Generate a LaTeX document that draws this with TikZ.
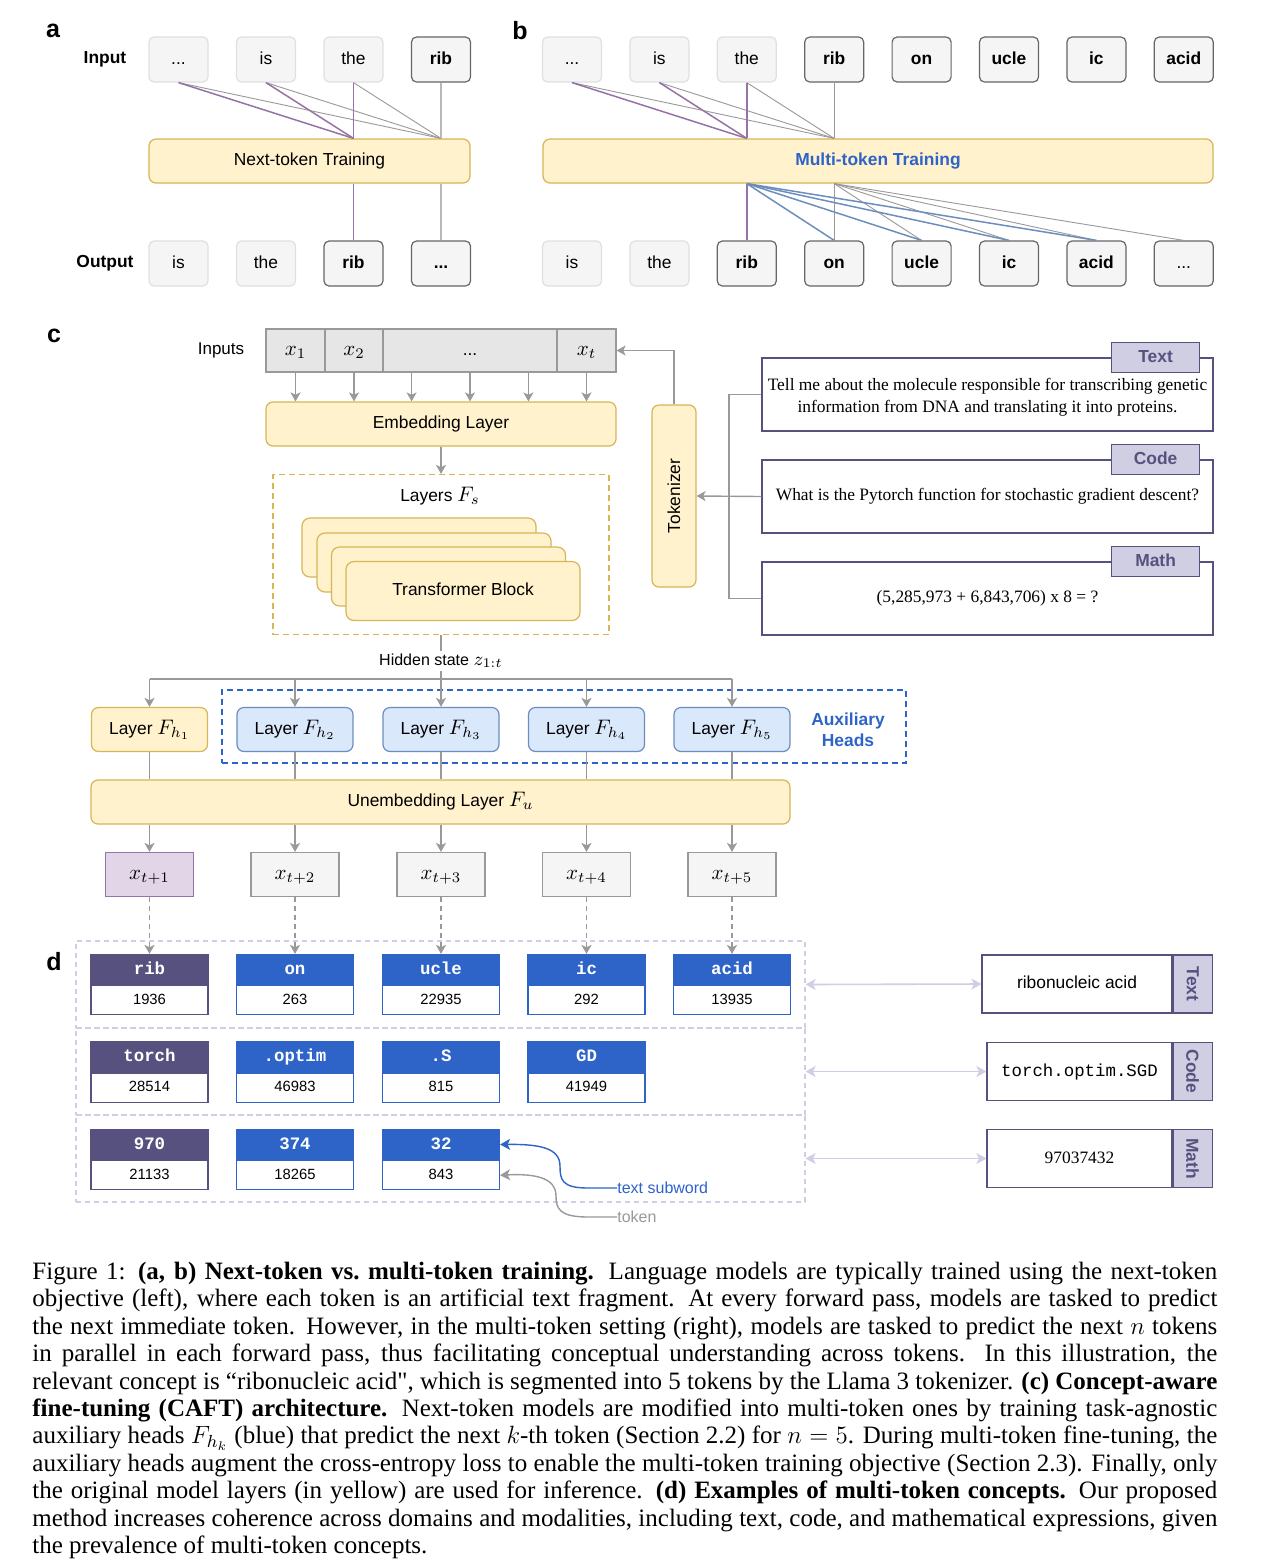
\RequirePackage{fix-cm}
\documentclass[tikz,border=0pt]{standalone}
\usepackage{graphicx}
\usepackage{fontspec}
\setmainfont{Liberation Serif}
\setsansfont{Liberation Sans}
\setmonofont{Liberation Mono}
\newfontfamily\plainrm[Ligatures=Common]{Liberation Serif}
\usetikzlibrary{arrows.meta,calc}
\definecolor{yfill}{HTML}{FFF2CC}
\definecolor{yline}{HTML}{D6B656}
\definecolor{tokfill}{HTML}{F5F5F5}
\definecolor{tokline}{HTML}{E0E0E0}
\definecolor{tokdark}{HTML}{666666}
\definecolor{lgray}{HTML}{999999}
\definecolor{vlgray}{HTML}{B8B8B8}
\definecolor{purpline}{HTML}{9673A6}
\definecolor{blueline}{HTML}{6C8EBF}
\definecolor{arrgray}{HTML}{999999}
\definecolor{cellfill}{HTML}{E6E6E6}
\definecolor{hfill}{HTML}{DAE8FC}
\definecolor{pfill}{HTML}{E1D5E7}
\definecolor{dpurp}{HTML}{56517E}
\definecolor{tabfill}{HTML}{D0CEE2}
\definecolor{dblue}{HTML}{2E64C8}
\definecolor{auxblue}{HTML}{2E64C8}
\definecolor{lav}{HTML}{D0CEE2}
\newcommand\fsz{\fontsize{8.7}{10.4}\selectfont}
\newcommand\mth[1]{{\fontsize{10.5}{12}\selectfont$#1$}}
\begin{document}
\begin{tikzpicture}[x=0.5pt,y=-0.5pt,
  every node/.style={font=\sffamily\fsz, inner sep=0pt},
  oneline/.style={text height=6.4pt, text depth=1.8pt},
  panel/.style={font=\sffamily\bfseries\fontsize{12.5}{14}\selectfont},
  rowlab/.style={font=\sffamily\bfseries\fsz},
  tokl/.style={oneline, draw=tokline, fill=tokfill, rounded corners=2.5pt, minimum width=29.5pt, minimum height=22.5pt, line width=0.6pt},
  tokd/.style={tokl, draw=tokdark, font=\sffamily\bfseries\fsz},
  tokdr/.style={tokl, draw=tokdark},
  ybox/.style={oneline, draw=yline, fill=yfill, rounded corners=3.5pt, line width=0.6pt},
  gline/.style={draw=lgray, line width=0.45pt},
  pline/.style={draw=purpline, line width=0.75pt},
  bline/.style={draw=blueline, line width=0.75pt},
  vline/.style={draw=vlgray, line width=0.8pt},
  arr/.style={draw=arrgray, line width=0.7pt, -{Stealth[length=4.5pt,width=5pt,inset=1.2pt]}},
  plainc/.style={draw=arrgray, line width=0.7pt},
  cell/.style={oneline, draw=lgray, fill=cellfill, minimum height=21.5pt, line width=0.6pt},
  head/.style={oneline, draw=blueline, fill=hfill, rounded corners=3.5pt, minimum width=58pt, minimum height=22pt, line width=0.6pt},
  outx/.style={oneline, draw=lgray, fill=tokfill, minimum width=44pt, minimum height=22pt, line width=0.6pt},
  prompt/.style={draw=dpurp, fill=white, minimum width=225.5pt, minimum height=36.5pt, line width=0.6pt, align=center, font=\rmfamily\fontsize{8.7}{10.8}\selectfont},
  ptab/.style={oneline, draw=dpurp, fill=tabfill, minimum width=44pt, minimum height=15pt, line width=0.6pt, text=dpurp, font=\sffamily\bfseries\fsz},
  hdp/.style={oneline, fill=dpurp, draw=dpurp, minimum width=58.5pt, minimum height=15pt, text=white, font=\ttfamily\bfseries\fsz, line width=0.6pt},
  hdb/.style={hdp, fill=dblue, draw=dblue},
  bdp/.style={text height=5.4pt, text depth=1.5pt, draw=dpurp, fill=white, minimum width=58.5pt, minimum height=14.5pt, font=\sffamily\fontsize{7.4}{9}\selectfont, line width=0.6pt},
  bdb/.style={bdp, draw=dblue},
  region/.style={draw=lav, dash pattern=on 2.5pt off 2pt, line width=0.6pt, minimum width=364.5pt, minimum height=43.5pt},
  rbox/.style={oneline, draw=dpurp, fill=white, minimum height=29pt, line width=0.6pt},
  rtab/.style={draw=dpurp, fill=tabfill, minimum width=19.5pt, minimum height=29pt, line width=0.6pt, text=dpurp, anchor=west},
  larr/.style={draw=lav, line width=0.8pt, {Stealth[length=5pt,width=5.5pt,inset=1.3pt]}-{Stealth[length=5pt,width=5.5pt,inset=1.3pt]}},
  darr/.style={arr, dash pattern=on 2.5pt off 2pt}
]
\useasboundingbox (0,0) rectangle (1262,1560);
\fill[white] (0,0) rectangle (1262,1560);

% ---------------- panel a ----------------
\node[panel] (la) at (53,31) {a};
\node[rowlab] (inA) at (105,59.5) {Input};
\node[tokl] (ia1) at (178.5,59.5) {...};
\node[tokl] (ia2) at (266,59.5) {is};
\node[tokl] (ia3) at (353.5,59.5) {the};
\node[tokd] (ia4) at (441,59.5) {rib};
\node[ybox, minimum width=160.5pt, minimum height=22pt] (ta) at (309.5,161) {Next-token Training};
\node[rowlab] (outA) at (105,263.5) {Output};
\node[tokl] (oa1) at (178.5,263.5) {is};
\node[tokl] (oa2) at (266,263.5) {the};
\node[tokd] (oa3) at (353.5,263.5) {rib};
\node[tokd] (oa4) at (441,263.5) {...};
\draw[gline] (ia1.south) -- (ia4 |- ta.north);
\draw[gline] (ia2.south) -- (ia4 |- ta.north);
\draw[gline] (ia3.south) -- (ia4 |- ta.north);
\draw[pline] (ia1.south) -- (ia3 |- ta.north);
\draw[pline] (ia2.south) -- (ia3 |- ta.north);
\draw[pline] (ia3.south) -- (ia3 |- ta.north);
\draw[vline] (ia4.south) -- (ia4 |- ta.north);
\draw[pline] (ia3 |- ta.south) -- (oa3.north);
\draw[vline] (ia4 |- ta.south) -- (oa4.north);

% ---------------- panel b ----------------
\node[panel] (lb) at (520,31) {b};
\node[tokl] (ib1) at (572,59.5) {...};
\node[tokl] (ib2) at (659.4,59.5) {is};
\node[tokl] (ib3) at (746.8,59.5) {the};
\node[tokd] (ib4) at (834.2,59.5) {rib};
\node[tokd] (ib5) at (921.6,59.5) {on};
\node[tokd] (ib6) at (1009,59.5) {ucle};
\node[tokd] (ib7) at (1096.4,59.5) {ic};
\node[tokd] (ib8) at (1183.8,59.5) {acid};
\node[ybox, minimum width=335pt, minimum height=22pt, text=auxblue, font=\sffamily\bfseries\fsz] (tb) at (878,161) {Multi-token Training};
\node[tokl] (ob1) at (572,263.5) {is};
\node[tokl] (ob2) at (659.4,263.5) {the};
\node[tokd] (ob3) at (746.8,263.5) {rib};
\node[tokd] (ob4) at (834.2,263.5) {on};
\node[tokd] (ob5) at (921.6,263.5) {ucle};
\node[tokd] (ob6) at (1009,263.5) {ic};
\node[tokd] (ob7) at (1096.4,263.5) {acid};
\node[tokdr] (ob8) at (1183.8,263.5) {...};
\draw[gline] (ib1.south) -- (ib4 |- tb.north);
\draw[gline] (ib2.south) -- (ib4 |- tb.north);
\draw[gline] (ib3.south) -- (ib4 |- tb.north);
\draw[pline] (ib1.south) -- (ib3 |- tb.north);
\draw[pline] (ib2.south) -- (ib3 |- tb.north);
\draw[pline] (ib3.south) -- (ib3 |- tb.north);
\draw[gline] (ib4.south) -- (ib4 |- tb.north);
\draw[gline] (ib4 |- tb.south) -- (ob4.north);
\draw[gline] (ib4 |- tb.south) -- (ob5.north);
\draw[gline] (ib4 |- tb.south) -- (ob6.north);
\draw[gline] (ib4 |- tb.south) -- (ob7.north);
\draw[gline] (ib4 |- tb.south) -- (ob8.north);
\draw[pline] (ib3 |- tb.south) -- (ob3.north);
\draw[bline] (ib3 |- tb.south) -- (ob4.north);
\draw[bline] (ib3 |- tb.south) -- (ob5.north);
\draw[bline] (ib3 |- tb.south) -- (ob6.north);
\draw[bline] (ib3 |- tb.south) -- (ob7.north);

% ---------------- panel c ----------------
\node[panel] (lc) at (54,336) {c};
\node[font=\sffamily\fontsize{8.5}{10}\selectfont] (inputs) at (221,350) {Inputs};
\node[cell, minimum width=29.5pt] (x1) at (295.5,350.5) {\mth{x_1}};
\node[cell, minimum width=29pt] (x2) at (354,350.5) {\mth{x_2}};
\node[cell, minimum width=87pt] (xd) at (470,350.5) {...};
\node[cell, minimum width=29.5pt] (xt) at (586.5,350.5) {\mth{x_t}};
\node[ybox, minimum width=175pt, minimum height=22pt] (emb) at (441,424) {Embedding Layer};
\coordinate (xda) at ($(xd.south west)!0.1667!(xd.south east)$);
\coordinate (xdb) at ($(xd.south west)!0.8333!(xd.south east)$);
\draw[arr] (x1.south) -- (x1.south |- emb.north);
\draw[arr] (x2.south) -- (x2.south |- emb.north);
\draw[arr] (xda) -- (xda |- emb.north);
\draw[arr] (xd.south) -- (xd.south |- emb.north);
\draw[arr] (xdb) -- (xdb |- emb.north);
\draw[arr] (xt.south) -- (xt.south |- emb.north);
\node[draw=yline, dash pattern=on 3pt off 2pt, line width=0.6pt, minimum width=168pt, minimum height=80pt] (fs) at (441,554.5) {};
\draw[arr] (emb.south) -- (fs.north);
\node (fsl) at (440,496) {Layers \mth{F_s}};
\node[ybox, rounded corners=4pt, minimum width=117pt, minimum height=29.5pt] (tb1) at (419,547.5) {};
\node[ybox, rounded corners=4pt, minimum width=117pt, minimum height=29.5pt] (tb2) at (434,562.5) {};
\node[ybox, rounded corners=4pt, minimum width=117pt, minimum height=29.5pt] (tb3) at (448.5,576.5) {};
\node[ybox, rounded corners=4pt, minimum width=117pt, minimum height=29.5pt] (tb4) at (463,591) {Transformer Block};
\node[draw=yline, fill=yfill, rounded corners=3.5pt, line width=0.6pt, minimum width=22pt, minimum height=91pt] (tok) at (674,496) {\rotatebox{90}{Tokenizer}};
\draw[arr] (tok.north) |- (xt.east);

\node[prompt] (p1) at (987.5,394.5) {\rule{0pt}{9pt}Tell me about the molecule responsible for transcribing genetic\\information from DNA and translating it into proteins.};
\node[prompt] (p2) at (987.5,496.5) {\rule[-2.5pt]{0pt}{8pt}What is the Pytorch function for stochastic gradient descent?};
\node[prompt] (p3) at (987.5,598.5) {\rule[-2.5pt]{0pt}{8pt}(5,285,973 + 6,843,706) x 8 = ?};
\node[ptab] (pt1) at ($(p1.north east)+(-58,0)$) {Text};
\node[ptab] (pt2) at ($(p2.north east)+(-58,0)$) {Code};
\node[ptab] (pt3) at ($(p3.north east)+(-58,0)$) {Math};
\coordinate (bus) at (729,496.5);
\draw[plainc] (p1.west) -| (bus) |- (p3.west);
\draw[arr] (p2.west) -- (tok.east);

\coordinate (hb) at (441,679);
\draw[plainc] (fs.south) -- (hb);
\node[fill=white, inner sep=1.5pt, font=\sffamily\fontsize{8}{9.5}\selectfont] (hsl) at (441,661) {Hidden state {\fontsize{9.5}{11}\selectfont$z_{1:t}$}};

\node[draw=auxblue, dash pattern=on 3pt off 2pt, line width=0.7pt, minimum width=342pt, minimum height=36.5pt] (aux) at (564,726.5) {};
\node[ybox, minimum width=58pt, minimum height=22pt] (h1) at (149.5,729.5) {Layer \mth{F_{h_1}}};
\node[head] (h2) at (295,729.5) {Layer \mth{F_{h_2}}};
\node[head] (h3) at (441,729.5) {Layer \mth{F_{h_3}}};
\node[head] (h4) at (586.5,729.5) {Layer \mth{F_{h_4}}};
\node[head] (h5) at (732,729.5) {Layer \mth{F_{h_5}}};
\node[align=center, text=auxblue, font=\sffamily\bfseries\fontsize{8.7}{10.6}\selectfont] (auxl) at (848,729.5) {Auxiliary\\Heads};
\draw[plainc] (h1.north |- hb) -- (h5.north |- hb);
\draw[arr] (h1.north |- hb) -- (h1.north);
\draw[arr] (h2.north |- hb) -- (h2.north);
\draw[arr] (h3.north |- hb) -- (h3.north);
\draw[arr] (h4.north |- hb) -- (h4.north);
\draw[arr] (h5.north |- hb) -- (h5.north);

\node[ybox, minimum width=349.5pt, minimum height=22pt] (unemb) at (440.5,802) {Unembedding Layer \mth{F_u}};
\draw[plainc] (h1.south) -- (h1.south |- unemb.north);
\draw[plainc] (h2.south) -- (h2.south |- unemb.north);
\draw[plainc] (h3.south) -- (h3.south |- unemb.north);
\draw[plainc] (h4.south) -- (h4.south |- unemb.north);
\draw[plainc] (h5.south) -- (h5.south |- unemb.north);

\node[outx, draw=purpline, fill=pfill] (o1) at (149.5,874.5) {\mth{x_{t+1}}};
\node[outx] (o2) at (295,874.5) {\mth{x_{t+2}}};
\node[outx] (o3) at (441,874.5) {\mth{x_{t+3}}};
\node[outx] (o4) at (586.5,874.5) {\mth{x_{t+4}}};
\node[outx] (o5) at (732,874.5) {\mth{x_{t+5}}};
\draw[arr] (h1.south |- unemb.south) -- (o1.north);
\draw[arr] (h2.south |- unemb.south) -- (o2.north);
\draw[arr] (h3.south |- unemb.south) -- (o3.north);
\draw[arr] (h4.south |- unemb.south) -- (o4.north);
\draw[arr] (h5.south |- unemb.south) -- (o5.north);

% ---------------- panel d ----------------
\node[panel] (ld) at (54,962) {d};
\node[region] (reg1) at (440.5,984.5) {};
\node[region] (reg2) at (440.5,1071.5) {};
\node[region] (reg3) at (440.5,1158.5) {};

\node[hdp] (d11) at (149.5,969.5) {rib};
\node[bdp, anchor=north] (e11) at (d11.south) {1936};
\node[hdb] (d12) at (295,969.5) {on};
\node[bdb, anchor=north] (e12) at (d12.south) {263};
\node[hdb] (d13) at (441,969.5) {ucle};
\node[bdb, anchor=north] (e13) at (d13.south) {22935};
\node[hdb] (d14) at (586.5,969.5) {ic};
\node[bdb, anchor=north] (e14) at (d14.south) {292};
\node[hdb] (d15) at (732,969.5) {acid};
\node[bdb, anchor=north] (e15) at (d15.south) {13935};

\node[hdp] (d21) at (149.5,1057) {torch};
\node[bdp, anchor=north] (e21) at (d21.south) {28514};
\node[hdb] (d22) at (295,1057) {.optim};
\node[bdb, anchor=north] (e22) at (d22.south) {46983};
\node[hdb] (d23) at (441,1057) {.S};
\node[bdb, anchor=north] (e23) at (d23.south) {815};
\node[hdb] (d24) at (586.5,1057) {GD};
\node[bdb, anchor=north] (e24) at (d24.south) {41949};

\node[hdp] (d31) at (149.5,1144.5) {970};
\node[bdp, anchor=north] (e31) at (d31.south) {21133};
\node[hdb] (d32) at (295,1144.5) {374};
\node[bdb, anchor=north] (e32) at (d32.south) {18265};
\node[hdb] (d33) at (441,1144.5) {32};
\node[bdb, anchor=north] (e33) at (d33.south) {843};

\draw[darr] (o1.south) -- (d11.north);
\draw[darr] (o2.south) -- (d12.north);
\draw[darr] (o3.south) -- (d13.north);
\draw[darr] (o4.south) -- (d14.north);
\draw[darr] (o5.south) -- (d15.north);

\node[anchor=west, text=dblue, font=\sffamily\fontsize{8}{9.5}\selectfont] (tsw) at (617,1188) {text subword};
\node[anchor=west, text=lgray, font=\sffamily\fontsize{8}{9.5}\selectfont] (tkn) at (617,1217) {token};
\draw[draw=dblue, line width=0.7pt, -{Stealth[length=5pt,width=5.5pt,inset=1.3pt]}] (tsw.west) -- (588,1188) .. controls (562,1188) and (560,1180) .. (560,1166) .. controls (560,1148) and (540,1144) .. (d33.east);
\draw[draw=lgray, line width=0.7pt, -{Stealth[length=5pt,width=5.5pt,inset=1.3pt]}] (tkn.west) -- (588,1217) .. controls (560,1217) and (556,1209) .. (556,1196) .. controls (556,1178) and (536,1173.5) .. (e33.east);

\node[rbox, minimum width=95pt] (r1) at (1077,984) {ribonucleic acid};
\node[rtab] (t1) at (r1.east) {\rotatebox{-90}{\bfseries Text}};
\node[rbox, minimum width=92.5pt] (r2) at (1079.5,1071.5) {\ttfamily torch.optim.SGD};
\node[rtab] (t2) at (r2.east) {\rotatebox{-90}{\bfseries Code}};
\node[rbox, minimum width=92.5pt, font=\rmfamily\fsz] (r3) at (1079.5,1158.5) {97037432};
\node[rtab] (t3) at (r3.east) {\rotatebox{-90}{\bfseries Math}};
\draw[larr] (reg1.east) -- (r1.west);
\draw[larr] (reg2.east) -- (r2.west);
\draw[larr] (reg3.east) -- (r3.west);

% ---------------- caption ----------------
\node[anchor=north west, text width=592.5pt, align=justify, font=\rmfamily\fontsize{12.5}{13.72}\selectfont] (cap) at (32,1261.5) {\hyphenpenalty=10000\exhyphenpenalty=10000\tolerance=9999%
Figure 1: \textbf{(a, b) Next-token vs.\ multi-token training.} Language models are typically trained using the next-token\linebreak
objective (left), where each token is an artificial text fragment. At every forward pass, models are tasked to predict\linebreak
the next immediate token. However, in the multi-token setting (right), models are tasked to predict the next $n$ tokens\linebreak
in parallel in each forward pass, thus facilitating conceptual understanding across tokens. In this illustration, the\linebreak
relevant concept is “ribonucleic acid{\plainrm"}, which is segmented into 5 tokens by the Llama 3 tokenizer. \textbf{(c) Concept-aware\linebreak
fine-tuning (CAFT) architecture.} Next-token models are modified into multi-token ones by training task-agnostic\linebreak
auxiliary heads $F_{h_k}$ (blue) that predict the next $k$-th token (Section 2.2) for $n = 5$. During multi-token fine-tuning, the\linebreak
auxiliary heads augment the cross-entropy loss to enable the multi-token training objective (Section 2.3). Finally, only\linebreak
the original model layers (in yellow) are used for inference. \textbf{(d) Examples of multi-token concepts.} Our proposed\linebreak
method increases coherence across domains and modalities, including text, code, and mathematical expressions, given\linebreak
the prevalence of multi-token concepts.};
\end{tikzpicture}
\end{document}
